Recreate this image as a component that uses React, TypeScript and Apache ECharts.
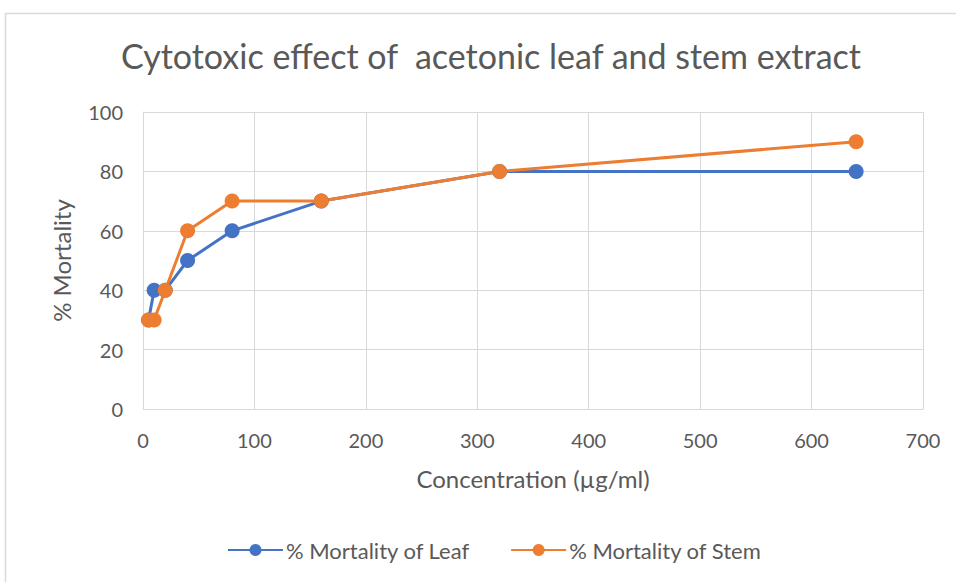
import React, { useEffect, useRef } from "react";
import * as echarts from "echarts";

const concentration = [5, 10, 20, 40, 80, 160, 320, 640];
const leafMortality = [30, 40, 40, 50, 60, 70, 80, 80];
const stemMortality = [30, 30, 40, 60, 70, 70, 80, 90];
const titleText = "Cytotoxic effect of  acetonic leaf and stem extract";
const xName = "Concentration (µg/ml)";
const yName = "% Mortality";
const leafName = "% Mortality of Leaf";
const stemName = "% Mortality of Stem";

const FONT = "Lato, 'Open Sans', sans-serif";
const GRAY = "#595959";

export default function App() {
  const ref = useRef<HTMLDivElement>(null);
  useEffect(() => {
    if (!ref.current) return;
    const chart = echarts.init(ref.current, undefined, { renderer: "svg" });
    const pairs = (ys: number[]) => concentration.map((x, i) => [x, ys[i]]);
    chart.setOption({
      animation: false,
      backgroundColor: "#ffffff",
      textStyle: { fontFamily: FONT },
      graphic: [
        {
          type: "rect",
          shape: { x: 5.5, y: 13.5, width: 1200, height: 1200 },
          style: { fill: "none", stroke: "#d9d9d9", lineWidth: 1.5 },
          silent: true,
        },
      ],
      title: {
        text: titleText,
        left: 116,
        top: 33,
        textStyle: { fontFamily: FONT, fontSize: 34, fontWeight: "normal", color: GRAY },
      },
      grid: { left: 143, right: 33, top: 112, bottom: 173 },
      legend: {
        bottom: 16,
        left: 222,
        itemWidth: 55,
        itemHeight: 15,
        itemGap: 40,
        textStyle: { fontFamily: FONT, fontSize: 22, color: GRAY, padding: [0, 0, 0, -2] },
        data: [leafName, stemName],
      },
      xAxis: {
        type: "value",
        min: 0,
        max: 700,
        interval: 100,
        name: xName,
        nameLocation: "middle",
        nameGap: 57,
        nameTextStyle: { fontFamily: FONT, fontSize: 24, color: GRAY },
        axisLine: { show: true, lineStyle: { color: "#d9d9d9" } },
        axisTick: { show: false },
        axisLabel: { margin: 21, fontSize: 20, color: GRAY, fontFamily: FONT },
        splitLine: { show: true, lineStyle: { color: "#d9d9d9" } },
      },
      yAxis: {
        type: "value",
        min: 0,
        max: 100,
        interval: 20,
        name: yName,
        nameLocation: "middle",
        nameGap: 70,
        nameRotate: 90,
        nameTextStyle: { fontFamily: FONT, fontSize: 24, color: GRAY },
        axisLine: { show: true, lineStyle: { color: "#d9d9d9" } },
        axisTick: { show: false },
        axisLabel: { margin: 20, fontSize: 20, color: GRAY, fontFamily: FONT },
        splitLine: { show: true, lineStyle: { color: "#d9d9d9" } },
      },
      series: [
        {
          name: leafName,
          type: "line",
          data: pairs(leafMortality),
          symbol: "circle",
          symbolSize: 15,
          lineStyle: { color: "#4472C4", width: 3 },
          itemStyle: { color: "#4472C4" },
        },
        {
          name: stemName,
          type: "line",
          data: pairs(stemMortality),
          symbol: "circle",
          symbolSize: 15,
          lineStyle: { color: "#ED7D31", width: 3 },
          itemStyle: { color: "#ED7D31" },
        },
      ],
    });
    return () => chart.dispose();
  }, []);
  return (
    <div
      ref={ref}
      style={{ position: "absolute", left: 0, top: 0, width: 956, height: 582 }}
    />
  );
}
